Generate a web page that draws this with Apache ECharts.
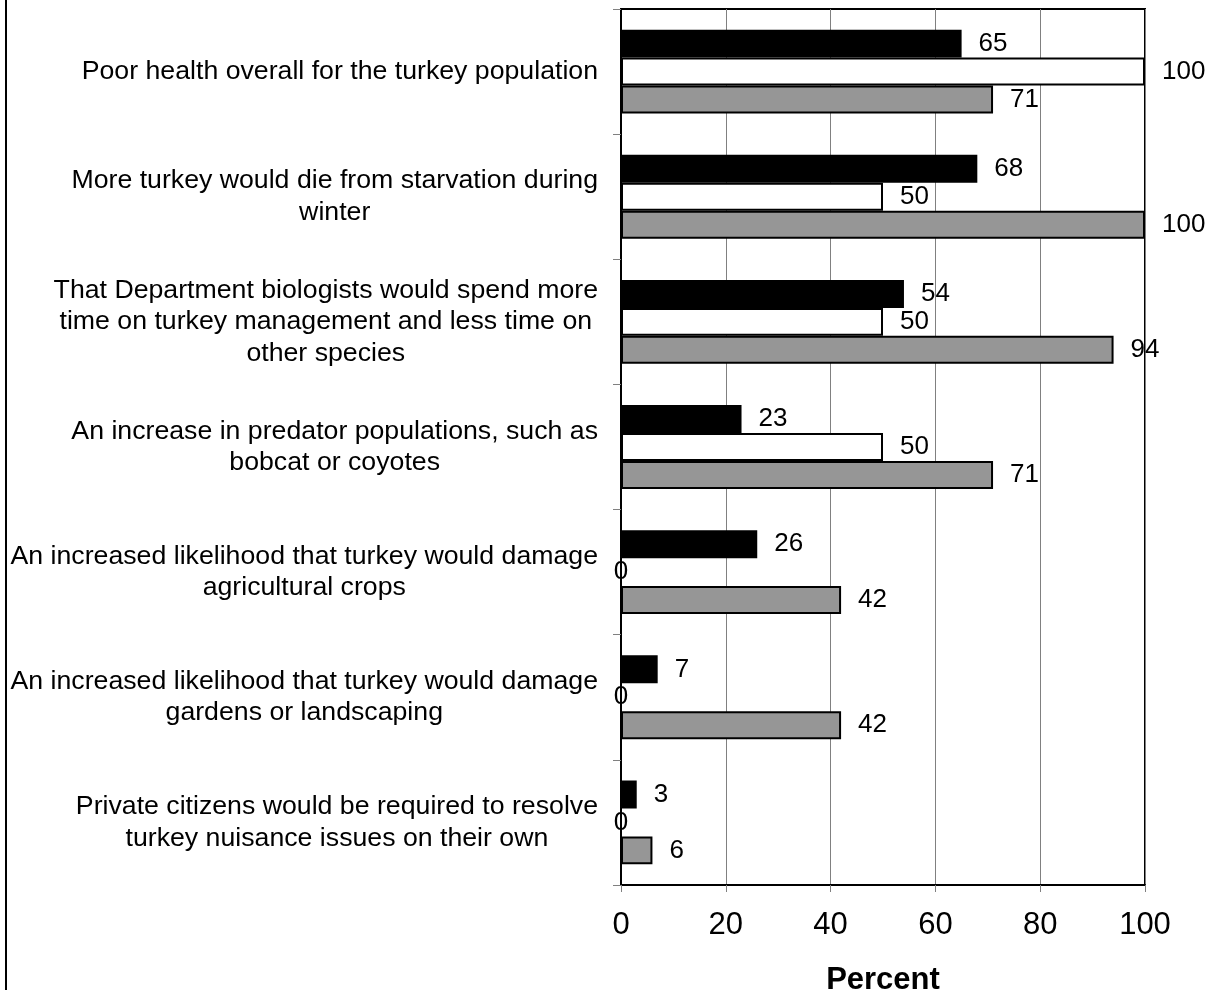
<!DOCTYPE html>
<html>
<head>
<meta charset="utf-8">
<script src="https://cdn.jsdelivr.net/npm/echarts@6/dist/echarts.min.js"></script>
<style>
html,body{margin:0;padding:0;background:#fff;}
#chart{width:1207px;height:990px;}
</style>
</head>
<body>
<div id="chart"></div>
<script>
const categories = [
  "Poor health overall for the turkey population",
  "More turkey would die from starvation during\nwinter",
  "That Department biologists would spend more\ntime on turkey management and less time on\nother species",
  "An increase in predator populations, such as\nbobcat or coyotes",
  "An increased likelihood that turkey would damage\nagricultural crops",
  "An increased likelihood that turkey would damage\ngardens or landscaping",
  "Private citizens would be required to resolve\nturkey nuisance issues on their own"
];
const seriesBlack = [65, 68, 54, 23, 26, 7, 3];
const seriesWhite = [100, 50, 50, 50, 0, 0, 0];
const seriesGray = [71, 100, 94, 71, 42, 42, 6];
const xTicks = [0, 20, 40, 60, 80, 100];

const FONT = "'Liberation Sans', Arial, sans-serif";

function toData(arr) {
  return arr.map(v => v === 0 ? { value: v, label: { position: 'inside', distance: 0 } } : v);
}

function makeSeries(name, values, color) {
  return {
    name: name,
    type: 'bar',
    data: toData(values),
    barGap: '0%',
    barCategoryGap: '33%',
    itemStyle: { color: color, borderColor: '#000', borderWidth: 2 },
    label: {
      show: true,
      position: 'right',
      distance: 17,
      color: '#000',
      fontFamily: FONT,
      fontSize: 26
    },
    emphasis: { disabled: true },
    animation: false
  };
}

const chart = echarts.init(document.getElementById('chart'), null, { renderer: 'canvas' });
chart.setOption({
  backgroundColor: '#fff',
  animation: false,
  grid: {
    left: 621, right: 62, top: 9, bottom: 105,
    containLabel: false,
    outerBoundsMode: 'none',
    show: true, borderColor: '#000', borderWidth: 2, backgroundColor: 'transparent'
  },
  xAxis: {
    type: 'value',
    min: xTicks[0], max: xTicks[xTicks.length - 1], interval: 20,
    name: 'Percent',
    nameLocation: 'middle',
    nameGap: 80,
    nameTextStyle: { fontFamily: FONT, fontSize: 31, fontWeight: 'bold', color: '#000' },
    axisLine: { show: true, lineStyle: { color: '#000', width: 2 } },
    axisTick: { show: true, length: 7, lineStyle: { color: '#808080', width: 1 } },
    axisLabel: { fontFamily: FONT, fontSize: 31, color: '#000', margin: 25 },
    splitLine: { show: true, lineStyle: { color: '#808080', width: 1 } }
  },
  yAxis: {
    type: 'category',
    inverse: true,
    data: categories,
    axisLine: { show: true, lineStyle: { color: '#000', width: 2 } },
    axisTick: { show: true, length: 8, alignWithLabel: false, interval: 0, lineStyle: { color: '#808080', width: 1 } },
    axisLabel: {
      interval: 0,
      margin: 23,
      align: 'right',
      color: '#000',
      fontFamily: FONT,
      fontSize: 26.7,
      lineHeight: 31.5,
      formatter: function (v) {
        return v.split('\n').map(l => '{c|' + l + '}').join('\n');
      },
      rich: {
        c: { align: 'center', fontFamily: FONT, fontSize: 26.7, lineHeight: 31.5, color: '#000' }
      }
    },
    splitLine: { show: false }
  },
  graphic: [{
    type: 'line',
    shape: { x1: 6, y1: 0, x2: 6, y2: 990 },
    style: { stroke: '#000', lineWidth: 2 },
    silent: true
  }],
  series: [
    makeSeries('Group A', seriesBlack, '#000000'),
    makeSeries('Group B', seriesWhite, '#ffffff'),
    makeSeries('Group C', seriesGray, '#969696')
  ]
});
</script>
</body>
</html>
